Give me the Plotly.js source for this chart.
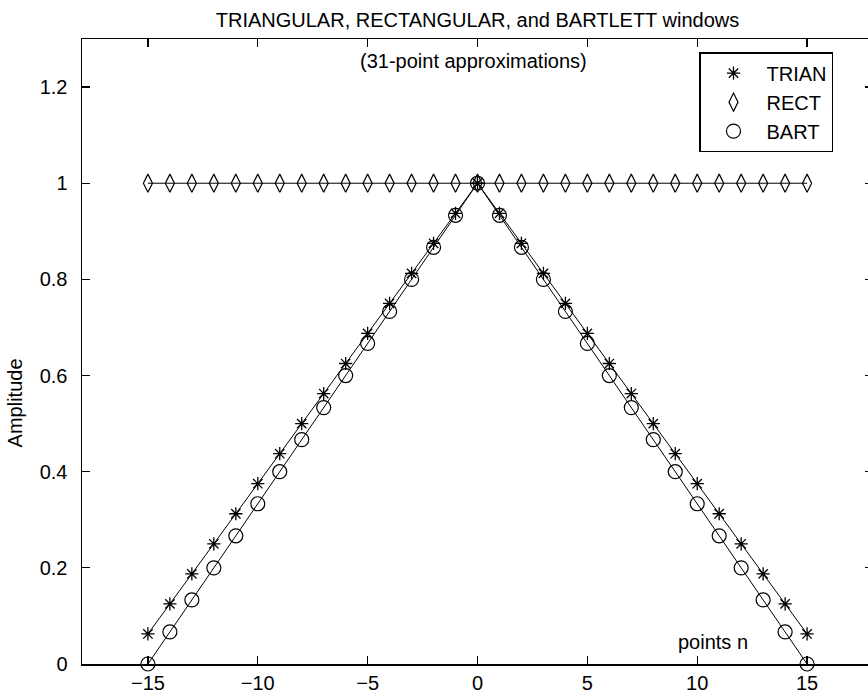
<!DOCTYPE html>
<html>
<head>
<meta charset="utf-8">
<script src="https://cdn.plot.ly/plotly-3.0.1.min.js"></script>
<style>
html, body { margin: 0; padding: 0; overflow: hidden; background: #fff; }
#chart { width: 883px; height: 696px; }
</style>
</head>
<body>
<div id="chart"></div>
<script>
// Sample index n
var n = [-15,-14,-13,-12,-11,-10,-9,-8,-7,-6,-5,-4,-3,-2,-1,0,1,2,3,4,5,6,7,8,9,10,11,12,13,14,15];
// 31-point triangular window
var trian = [0.0625,0.125,0.1875,0.25,0.3125,0.375,0.4375,0.5,0.5625,0.625,0.6875,0.75,0.8125,0.875,0.9375,1,
             0.9375,0.875,0.8125,0.75,0.6875,0.625,0.5625,0.5,0.4375,0.375,0.3125,0.25,0.1875,0.125,0.0625];
// 31-point rectangular window
var rect = [1,1,1,1,1,1,1,1,1,1,1,1,1,1,1,1,1,1,1,1,1,1,1,1,1,1,1,1,1,1,1];
// 31-point Bartlett window
var bart = [0,0.0667,0.1333,0.2,0.2667,0.3333,0.4,0.4667,0.5333,0.6,0.6667,0.7333,0.8,0.8667,0.9333,1,
            0.9333,0.8667,0.8,0.7333,0.6667,0.6,0.5333,0.4667,0.4,0.3333,0.2667,0.2,0.1333,0.0667,0];
var seriesNames = ['TRIAN', 'RECT', 'BART'];
var xTicks = [-15,-10,-5,0,5,10,15];
var yTicks = [0,0.2,0.4,0.6,0.8,1,1.2];
var yTickText = ['0','0.2','0.4','0.6','0.8','1','1.2'];

var FONT = 'Liberation Sans, Arial, Helvetica, sans-serif';
var fs = 20;

var mTrian = {symbol: 'asterisk-open', size: 11, color: '#000', line: {width: 1.3, color: '#000'}};
var mRect  = {symbol: 'diamond-tall-open', size: 13, color: '#000', line: {width: 1.2, color: '#000'}};
var mBart  = {symbol: 'circle-open', size: 14, color: '#000', line: {width: 1.2, color: '#000'}};

var traces = [
  {x: n, y: trian, mode: 'lines+markers', line: {color: '#000', width: 1}, marker: mTrian, showlegend: false, cliponaxis: false},
  {x: n, y: rect,  mode: 'lines+markers', line: {color: '#000', width: 1}, marker: mRect,  showlegend: false, cliponaxis: false},
  {x: n, y: bart,  mode: 'lines+markers', line: {color: '#000', width: 1}, marker: mBart,  showlegend: false, cliponaxis: false},
  {x: [null], y: [null], mode: 'markers', name: seriesNames[0], marker: mTrian},
  {x: [null], y: [null], mode: 'markers', name: seriesNames[1], marker: mRect},
  {x: [null], y: [null], mode: 'markers', name: seriesNames[2], marker: mBart}
];

var layout = {
  width: 883, height: 696,
  margin: {l: 82, r: 10, t: 39, b: 32, pad: 0},
  paper_bgcolor: '#fff', plot_bgcolor: '#fff',
  font: {family: FONT, size: fs, color: '#000'},
  title: {text: 'TRIANGULAR, RECTANGULAR, and BARTLETT windows', font: {family: FONT, size: fs, color: '#000'},
          x: 0.5, xref: 'paper', xanchor: 'center', y: 0.971, yref: 'container', yanchor: 'middle'},
  xaxis: {range: [-18, 18], tickvals: xTicks, ticks: 'inside', ticklen: 8, tickwidth: 1.3, tickcolor: '#000',
          showline: true, linecolor: '#000', linewidth: 1.5, mirror: 'ticks', showgrid: false, zeroline: false,
          tickfont: {family: FONT, size: fs, color: '#000'}},
  yaxis: {range: [0, 1.3], tickvals: yTicks, ticktext: yTickText, ticks: 'inside', ticklen: 8, tickwidth: 1.3, tickcolor: '#000',
          showline: true, linecolor: '#000', linewidth: 1.5, mirror: 'ticks', showgrid: false, zeroline: false,
          ticklabelstandoff: 9,
          tickfont: {family: FONT, size: fs, color: '#000'}},
  showlegend: true,
  legend: {x: (699 - 82) / 791, xanchor: 'left', y: 0.979, yanchor: 'top', bgcolor: '#fff', bordercolor: '#000', borderwidth: 1.5,
           font: {family: FONT, size: fs, color: '#000'}, itemwidth: 56},
  annotations: [
    {text: '(31-point approximations)', x: -0.2, y: 1.255, xref: 'x', yref: 'y', showarrow: false,
     xanchor: 'center', yanchor: 'middle', font: {family: FONT, size: fs, color: '#000'}},
    {text: 'points n', x: 10.7, y: 0.045, xref: 'x', yref: 'y', showarrow: false,
     xanchor: 'center', yanchor: 'middle', font: {family: FONT, size: fs, color: '#000'}},
    {text: 'Amplitude', x: (15 - 82) / 791, y: 0.542, xref: 'paper', yref: 'y', showarrow: false, textangle: -90,
     xanchor: 'center', yanchor: 'middle', font: {family: FONT, size: fs, color: '#000'}}
  ]
};

Plotly.newPlot('chart', traces, layout, {displayModeBar: false, staticPlot: true});
</script>
</body>
</html>
